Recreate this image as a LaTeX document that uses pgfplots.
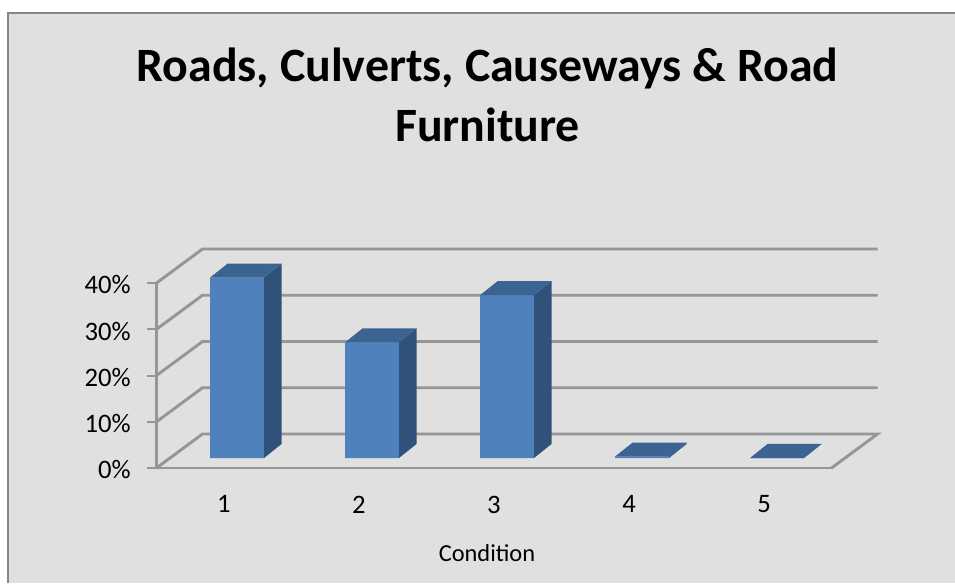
\documentclass[border=0pt]{standalone}
\usepackage{fontspec}
\setmainfont{Carlito}
\usepackage{pgfplots}
\pgfplotsset{compat=1.18}
\definecolor{panel}{HTML}{E0E0E0}
\definecolor{frameline}{HTML}{868686}
\definecolor{gridc}{HTML}{969696}
\definecolor{front}{HTML}{4F81BD}
\definecolor{sidec}{HTML}{30527A}
\definecolor{topc}{HTML}{3C6492}
\begin{document}
\begin{tikzpicture}[x=1pt,y=1pt]
\useasboundingbox (0,0) rectangle (716.25,437.25);
\fill[panel] (6,0) rectangle (716.25,427.5);
\draw[frameline,line width=1.5pt] (6,0) -- (6,427.5) -- (716.25,427.5);
% frame axis: percent scale, walls and floor
\begin{axis}[
  at={(117.375pt,86.25pt)}, anchor=south west,
  scale only axis, width=506.25pt, height=138.75pt,
  xmin=0.5, xmax=5.5, ymin=0, ymax=40, clip=false,
  axis y line*=left, axis x line*=bottom,
  axis line style={draw=gridc,line width=2.2pt,-},
  xtick={1,2,3,4,5}, xticklabels={1,2,3,4,5},
  ytick={0,10,20,30,40}, yticklabels={0\%,10\%,20\%,30\%,40\%},
  tick style={draw=gridc,line width=1.5pt},
  x tick style={draw=none},
  major tick length=6.75pt,
  tick align=outside,
  x tick label style={yshift=-10.5pt},
  y tick label style={xshift=-9pt,yshift=-1.4pt},
  tick label style={font=\fontsize{20}{24}\selectfont,text=black},
  xlabel={Condition},
  xlabel style={at={(axis description cs:0.4896,-0.459)},anchor=center,font=\fontsize{18.3}{22}\selectfont},
  title={Roads, Culverts, Causeways \& Road\\Furniture},
  title style={at={(axis description cs:0.4904,1.975)},anchor=center,align=center,font=\fontsize{35.9}{45}\selectfont\bfseries},
]
\addplot[draw=gridc,line width=2.2pt,no markers] coordinates {(0.5,0)(0.8407,7.35)(5.8407,7.35)(5.5,0)};
\addplot[draw=gridc,line width=2.2pt,no markers] coordinates {(0.5,10)(0.8407,17.35)(5.8407,17.35)};
\addplot[draw=gridc,line width=2.2pt,no markers] coordinates {(0.5,20)(0.8407,27.35)(5.8407,27.35)};
\addplot[draw=gridc,line width=2.2pt,no markers] coordinates {(0.5,30)(0.8407,37.35)(5.8407,37.35)};
\addplot[draw=gridc,line width=2.2pt,no markers] coordinates {(0.5,40)(0.8407,47.35)(5.8407,47.35)};
\end{axis}
% data axis: bars on their own baseline, set back in depth
\begin{axis}[
  at={(76.5pt,93.75pt)}, anchor=south west,
  scale only axis, width=607.5pt, height=138.75pt,
  xmin=0, xmax=6, ymin=0, ymax=40, clip=false, hide axis,
]
\addplot[ybar,bar width=40.5pt,bar shift=0pt,fill=front,draw=none] coordinates {(1,39)(2,25)(3,35.2)(4,0.3)(5,0)};
% side faces
\addplot[fill=sidec,draw=none] coordinates {(1.2,0)(1.33,3.03)(1.33,42.03)(1.2,39)} --cycle;
\addplot[fill=sidec,draw=none] coordinates {(2.2,0)(2.33,3.03)(2.33,28.03)(2.2,25)} --cycle;
\addplot[fill=sidec,draw=none] coordinates {(3.2,0)(3.33,3.03)(3.33,38.23)(3.2,35.2)} --cycle;
\addplot[fill=sidec,draw=none] coordinates {(4.2,0)(4.33,3.03)(4.33,3.33)(4.2,0.3)} --cycle;
\addplot[fill=sidec,draw=none] coordinates {(5.2,0)(5.33,3.03)(5.33,3.03)(5.2,0)} --cycle;
% top faces
\addplot[fill=topc,draw=none] coordinates {(0.8,39)(1.2,39)(1.33,42.03)(0.93,42.03)} --cycle;
\addplot[fill=topc,draw=none] coordinates {(1.8,25)(2.2,25)(2.33,28.03)(1.93,28.03)} --cycle;
\addplot[fill=topc,draw=none] coordinates {(2.8,35.2)(3.2,35.2)(3.33,38.23)(2.93,38.23)} --cycle;
\addplot[fill=topc,draw=none] coordinates {(3.8,0.3)(4.2,0.3)(4.33,3.33)(3.93,3.33)} --cycle;
\addplot[fill=topc,draw=none] coordinates {(4.8,0)(5.2,0)(5.33,3.03)(4.93,3.03)} --cycle;
\end{axis}
\end{tikzpicture}
\end{document}
